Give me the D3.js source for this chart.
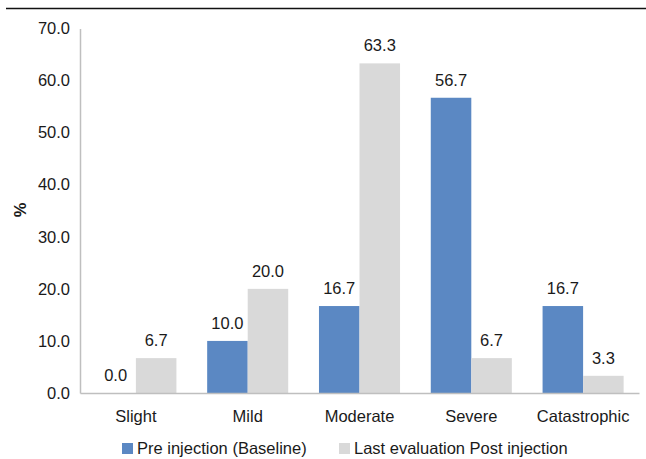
<!DOCTYPE html>
<html>
<head>
<meta charset="utf-8">
<script src="https://cdn.jsdelivr.net/npm/d3@7"></script>
<style>
  html, body { margin: 0; padding: 0; background: #fff; }
  svg text { font-family: "Liberation Sans", Arial, sans-serif; fill: #1a1a1a; }
</style>
</head>
<body>
<svg id="chart" width="646" height="459"></svg>
<script>
// Severity distribution before and after injection (%)
const categories = ["Slight", "Mild", "Moderate", "Severe", "Catastrophic"];
const seriesNames = ["Pre injection (Baseline)", "Last evaluation Post injection"];
const preValues = [0.0, 10.0, 16.7, 56.7, 16.7];
const postValues = [6.7, 20.0, 63.3, 6.7, 3.3];
const yTicks = [0, 10, 20, 30, 40, 50, 60, 70];
const colors = ["#5b88c3", "#d9d9d9"];

const svg = d3.select("#chart");
const plotLeft = 80, plotRight = 639, plotTop = 28.5, plotBottom = 393;

const x = d3.scaleBand().domain(categories).range([plotLeft, plotRight])
  .paddingInner(0.275).paddingOuter(0.1375);
const xs = d3.scaleBand().domain([0, 1]).range([0, x.bandwidth()]);
const y = d3.scaleLinear().domain([0, 70]).range([plotBottom, plotTop]);

// rule across the top
svg.append("line").attr("x1", 6).attr("x2", 646).attr("y1", 8.5).attr("y2", 8.5)
  .attr("stroke", "#111").attr("stroke-width", 1.5);

// y axis
const yAxis = svg.append("g").attr("transform", `translate(${plotLeft},0)`)
  .call(d3.axisLeft(y).tickValues(yTicks).tickFormat(d3.format(".1f")).tickSize(0).tickPadding(10));
yAxis.select(".domain").attr("stroke", "#bfbfbf").attr("stroke-width", 1.5);
yAxis.selectAll("text").style("font-size", "16.5px").attr("fill", "#1a1a1a");

// bars
const series = [preValues, postValues];
const groups = svg.append("g").selectAll("g").data(categories).join("g")
  .attr("transform", d => `translate(${x(d)},0)`);

groups.each(function(cat, ci) {
  const g = d3.select(this);
  series.forEach((vals, si) => {
    const v = vals[ci];
    g.append("rect")
      .attr("x", xs(si)).attr("width", xs.bandwidth())
      .attr("y", y(v)).attr("height", y(0) - y(v))
      .attr("fill", colors[si]);
    g.append("text")
      .attr("x", xs(si) + xs.bandwidth() / 2)
      .attr("y", y(v) - 12)
      .attr("text-anchor", "middle")
      .style("font-size", "16.5px")
      .text(d3.format(".1f")(v));
  });
});

// x axis
const xAxis = svg.append("g").attr("transform", `translate(0,${plotBottom})`)
  .call(d3.axisBottom(x).tickSize(0).tickPadding(17));
xAxis.select(".domain").attr("stroke", "#bfbfbf").attr("stroke-width", 1.5);
xAxis.selectAll("text").style("font-size", "16.5px").attr("fill", "#1a1a1a");

// y axis title
svg.append("text")
  .attr("transform", "translate(26,210) rotate(-90)")
  .attr("text-anchor", "middle")
  .style("font-size", "16.5px").style("font-weight", "bold")
  .text("%");

// legend
const legendX = [122, 339];
const legend = svg.append("g").selectAll("g").data(seriesNames).join("g")
  .attr("transform", (d, i) => `translate(${legendX[i]},443)`);
legend.append("rect").attr("width", 11).attr("height", 11).attr("fill", (d, i) => colors[i]);
legend.append("text").attr("x", 15).attr("y", 11)
  .style("font-size", "16.5px").text(d => d);
</script>
</body>
</html>
